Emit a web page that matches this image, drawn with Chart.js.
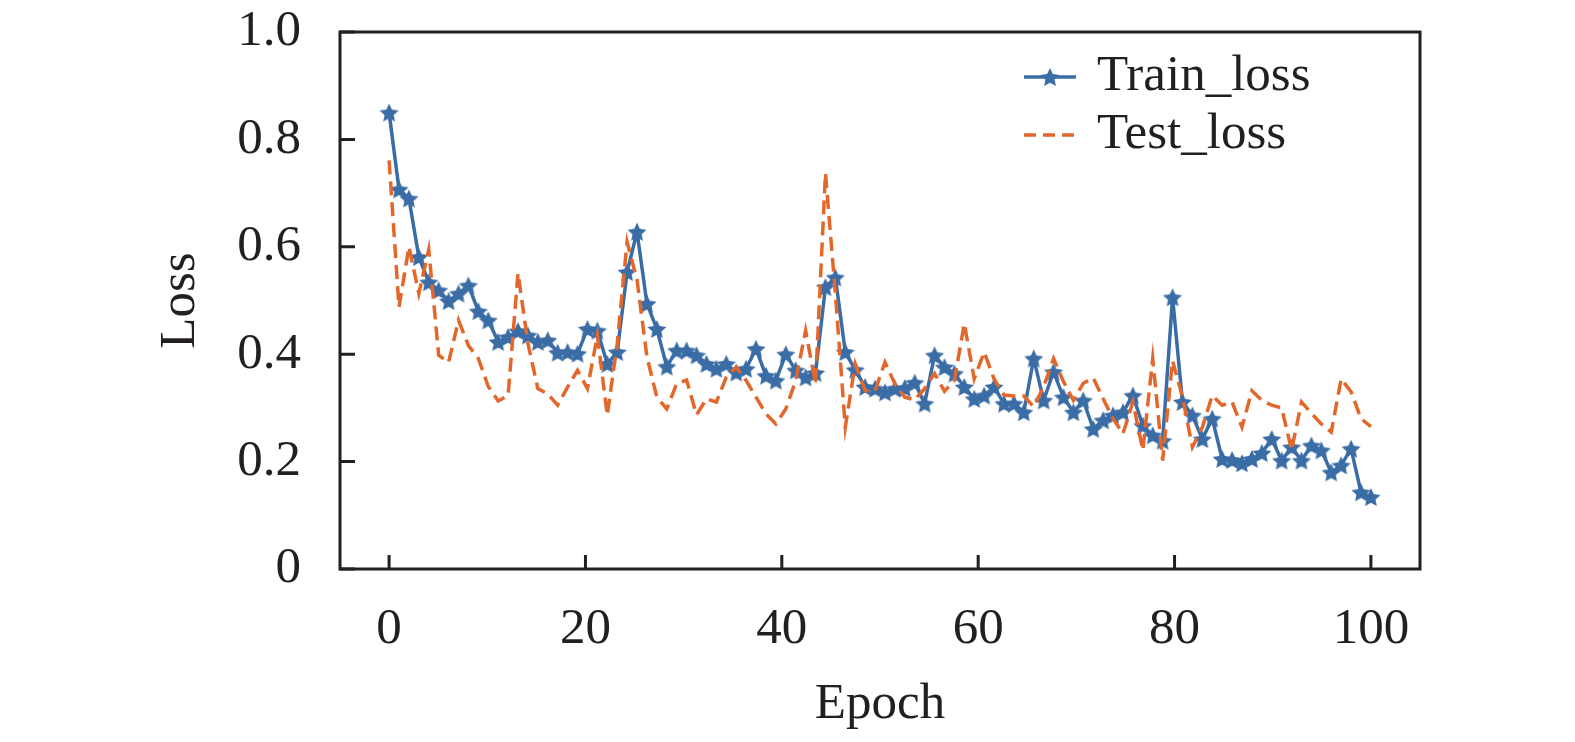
<!DOCTYPE html>
<html>
<head>
<meta charset="utf-8">
<script src="https://cdn.jsdelivr.net/npm/chart.js@4.4.1/dist/chart.umd.min.js"></script>
<style>
  html, body { margin: 0; padding: 0; background: #fff; }
  #lossChart { display: block; }
</style>
</head>
<body>
<canvas id="lossChart" width="1575" height="742"></canvas>
<script>
// values, one per epoch step
var trainLoss = [
  0.850, 0.707, 0.690, 0.581, 0.534, 0.519, 0.499, 0.513, 0.528, 0.480,
  0.463, 0.423, 0.432, 0.443, 0.435, 0.423, 0.426, 0.403, 0.404, 0.401,
  0.447, 0.444, 0.382, 0.404, 0.553, 0.628, 0.494, 0.447, 0.377, 0.407,
  0.407, 0.398, 0.382, 0.373, 0.382, 0.366, 0.373, 0.410, 0.360, 0.351,
  0.400, 0.370, 0.357, 0.365, 0.525, 0.543, 0.404, 0.371, 0.339, 0.336,
  0.329, 0.336, 0.337, 0.347, 0.308, 0.398, 0.376, 0.364, 0.339, 0.317,
  0.323, 0.339, 0.308, 0.308, 0.292, 0.392, 0.314, 0.367, 0.320, 0.292,
  0.314, 0.261, 0.277, 0.286, 0.292, 0.323, 0.267, 0.249, 0.239, 0.506,
  0.311, 0.286, 0.242, 0.280, 0.205, 0.203, 0.197, 0.205, 0.216, 0.242,
  0.202, 0.227, 0.202, 0.230, 0.221, 0.180, 0.193, 0.224, 0.143, 0.134
];
var testLoss = [
  0.761, 0.488, 0.600, 0.513, 0.595, 0.398, 0.385, 0.463, 0.416, 0.392,
  0.340, 0.313, 0.323, 0.551, 0.420, 0.336, 0.326, 0.305, 0.339, 0.370,
  0.336, 0.435, 0.286, 0.420, 0.609, 0.538, 0.395, 0.320, 0.298, 0.345,
  0.352, 0.287, 0.317, 0.311, 0.357, 0.376, 0.351, 0.320, 0.289, 0.270,
  0.298, 0.351, 0.444, 0.345, 0.737, 0.513, 0.264, 0.382, 0.332, 0.332,
  0.385, 0.345, 0.320, 0.315, 0.336, 0.364, 0.331, 0.351, 0.457, 0.354,
  0.404, 0.354, 0.324, 0.322, 0.322, 0.302, 0.339, 0.392, 0.349, 0.314,
  0.346, 0.356, 0.317, 0.280, 0.252, 0.311, 0.221, 0.392, 0.202, 0.388,
  0.320, 0.227, 0.264, 0.323, 0.305, 0.311, 0.264, 0.332, 0.314, 0.305,
  0.300, 0.221, 0.311, 0.290, 0.270, 0.255, 0.354, 0.330, 0.280, 0.265
];
var seriesNames = ['Train_loss', 'Test_loss'];
var xTicks = [0, 20, 40, 60, 80, 100];
var yTicks = [0, 0.2, 0.4, 0.6, 0.8, 1.0];
var epochStart = 0, epochEnd = 100;

var blue = '#3a6ca6';
var orange = '#e3672a';
var ink = '#231f20';
var serif = "'Liberation Serif', 'Times New Roman', serif";
var dash = [14, 7];

// the 100 points sit evenly between epochStart and epochEnd
var epochs = [];
for (var i = 0; i < trainLoss.length; i++) {
  epochs.push(epochStart + i * (epochEnd - epochStart) / (trainLoss.length - 1));
}
function toPoints(vals) {
  return vals.map(function (v, i) { return { x: epochs[i], y: v }; });
}

// filled five point star for the train markers
function makeStar(color, r) {
  var c = document.createElement('canvas');
  var s = Math.ceil(r * 2 + 2);
  c.width = s; c.height = s;
  var g = c.getContext('2d');
  g.fillStyle = color;
  g.beginPath();
  for (var k = 0; k < 10; k++) {
    var rr = k % 2 === 0 ? r : r * 0.48;
    var a = -Math.PI / 2 + k * Math.PI / 5;
    g.lineTo(s / 2 + rr * Math.cos(a), s / 2 + rr * Math.sin(a) + r * 0.1);
  }
  g.closePath();
  g.fill();
  return c;
}
var starImg = makeStar(blue, 10);

var frameAndTicks = {
  id: 'frameAndTicks',
  afterDatasetsDraw: function (chart) {
    var ctx = chart.ctx, a = chart.chartArea;
    var xs = chart.scales.x, ys = chart.scales.y;
    ctx.save();
    ctx.strokeStyle = ink;
    ctx.lineWidth = 3;
    ctx.strokeRect(a.left, a.top, a.right - a.left, a.bottom - a.top);
    ctx.beginPath();
    xTicks.forEach(function (v) {
      var px = xs.getPixelForValue(v);
      ctx.moveTo(px, a.bottom); ctx.lineTo(px, a.bottom - 14);
    });
    yTicks.forEach(function (v) {
      var py = ys.getPixelForValue(v);
      ctx.moveTo(a.left, py); ctx.lineTo(a.left + 15, py);
    });
    ctx.stroke();
    ctx.restore();
  }
};

var insideLegend = {
  id: 'insideLegend',
  afterDraw: function (chart) {
    var ctx = chart.ctx, a = chart.chartArea;
    var x0 = a.left + 684, x1 = a.left + 736, tx = a.left + 757;
    var rows = [a.top + 45, a.top + 103];
    ctx.save();
    ctx.lineWidth = 3.5;
    // train sample
    ctx.strokeStyle = blue;
    ctx.beginPath(); ctx.moveTo(x0, rows[0]); ctx.lineTo(x1, rows[0]); ctx.stroke();
    ctx.drawImage(starImg, (x0 + x1) / 2 - starImg.width / 2, rows[0] - starImg.height / 2);
    // test sample
    ctx.strokeStyle = orange;
    ctx.setLineDash([12, 7]);
    ctx.beginPath(); ctx.moveTo(x0, rows[1]); ctx.lineTo(x1, rows[1]); ctx.stroke();
    ctx.setLineDash([]);
    ctx.fillStyle = ink;
    ctx.font = '51px ' + serif;
    ctx.textBaseline = 'middle';
    ctx.fillText(seriesNames[0], tx, rows[0]);
    ctx.fillText(seriesNames[1], tx, rows[1]);
    ctx.restore();
  }
};

var ctx = document.getElementById('lossChart').getContext('2d');
var chart = new Chart(ctx, {
  type: 'line',
  data: {
    datasets: [{
      label: seriesNames[0],
      data: toPoints(trainLoss),
      borderColor: blue,
      backgroundColor: blue,
      borderWidth: 3.5,
      pointStyle: starImg,
      pointRadius: 9,
      tension: 0,
      order: 1
    }, {
      label: seriesNames[1],
      data: toPoints(testLoss),
      borderColor: orange,
      borderWidth: 3.5,
      borderDash: dash,
      pointRadius: 0,
      tension: 0,
      order: 0
    }]
  },
  options: {
    responsive: false,
    animation: false,
    devicePixelRatio: 1,
    layout: { padding: { top: 32, right: 155, left: 0, bottom: 0 } },
    plugins: { legend: { display: false }, tooltip: { enabled: false } },
    scales: {
      x: {
        type: 'linear',
        min: -5,
        max: 105,
        grid: { display: false, drawTicks: false },
        border: { display: false },
        afterBuildTicks: function (s) { s.ticks = xTicks.map(function (v) { return { value: v }; }); },
        afterFit: function (s) { s.height = 173; s.paddingLeft = 0; s.paddingRight = 0; },
        ticks: { autoSkip: false, maxRotation: 0, padding: 30, color: ink, font: { family: serif, size: 51 } },
        title: { display: true, text: 'Epoch', color: ink, padding: { top: 0, bottom: 7 }, font: { family: serif, size: 51 } }
      },
      y: {
        min: 0,
        max: 1,
        grid: { display: false, drawTicks: false },
        border: { display: false },
        afterBuildTicks: function (s) { s.ticks = yTicks.map(function (v) { return { value: v }; }); },
        afterFit: function (s) { s.width = 340; s.paddingTop = 0; s.paddingBottom = 0; },
        ticks: {
          padding: 39, color: ink, font: { family: serif, size: 51 },
          callback: function (v) { return v === 0 ? '0' : v.toFixed(1); }
        },
        title: { display: true, text: 'Loss', color: ink, padding: { top: 150, bottom: 0 }, font: { family: serif, size: 51 } }
      }
    }
  },
  plugins: [frameAndTicks, insideLegend]
});
</script>
</body>
</html>
